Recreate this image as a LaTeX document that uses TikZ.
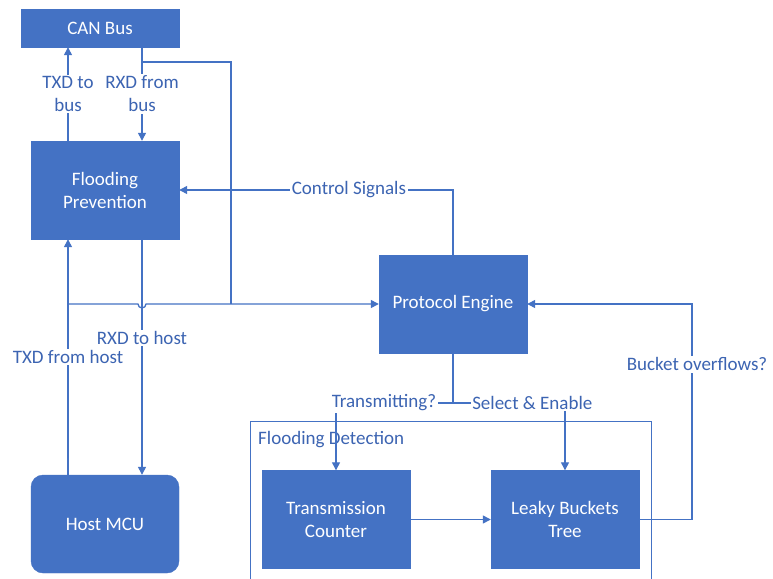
\documentclass[tikz,border=0pt]{standalone}
\usepackage{fontspec}
\setmainfont{Carlito}
\usetikzlibrary{arrows.meta}
\definecolor{boxblue}{RGB}{68,114,196}
\definecolor{txtblue}{RGB}{60,100,178}
\begin{document}
\begin{tikzpicture}[x=1pt,y=-1pt,
  blk/.style={fill=boxblue, draw=boxblue, text=white, inner sep=0pt, align=center,
    font=\fontsize{19}{23}\selectfont},
  lbl/.style={fill=white, text=txtblue, inner sep=1.5pt, align=center,
    font=\fontsize{19}{23}\selectfont},
  wire/.style={draw=boxblue, line width=1.3pt},
  arr/.style={wire, -{Triangle[length=8pt,width=8pt]}},
  grp/.style={draw=boxblue, line width=1.1pt, inner sep=0pt}]
\fill[white] (0,0) rectangle (773,578);
\clip (0,0) rectangle (773,578);

% blocks
\node[blk, minimum width=158, minimum height=38] (can) at (100,28) {CAN Bus};
\node[blk, minimum width=148, minimum height=98] (fp) at (105,190) {Flooding\\Prevention};
\node[blk, minimum width=148, minimum height=98] (pe) at (453,304) {Protocol Engine};
\node[blk, minimum width=148, minimum height=98, rounded corners=12pt] (host) at (105,524) {Host MCU};

% flooding detection group
\node[grp, minimum width=401, minimum height=190, anchor=north west] (fd) at (250,421) {};
\node[anchor=west, text=txtblue, inner sep=0pt, font=\fontsize{19}{23}\selectfont] (fdl) at (258,440) {Flooding Detection};
\node[blk, minimum width=148, minimum height=98] (tc) at (336,519.5) {Transmission\\Counter};
\node[blk, minimum width=148, minimum height=98] (lbt) at (565,519.5) {Leaky Buckets\\Tree};

% wire columns and junctions
\coordinate (xT) at (68,0);
\coordinate (xR) at (142,0);
\coordinate (busTap) at (142,62);
\coordinate (jn) at (231,304);
\coordinate (split) at (68,304);
\coordinate (fork) at (453,403);
\coordinate (xO) at (692,0);

% CAN bus <-> flooding prevention
\draw[arr] (fp.north -| xT) -- node[lbl]{TXD to\\bus} (can.south -| xT);
\draw[arr] (can.south -| xR) -- node[lbl]{RXD from\\bus} (fp.north -| xR);
\draw[wire] (busTap) -| (jn);

% host <-> flooding prevention
\draw[arr] (host.north -| xT) -- node[lbl, pos=0.5]{TXD from host} (fp.south -| xT);
\draw[arr] (fp.south -| xR) -- node[lbl, pos=0.42]{RXD to host} (host.north -| xR);

% tapped lines into the protocol engine, hopping over the RXD line
\draw[arr] (split) -- (138,304) arc[start angle=180, end angle=0, radius=4] -- (pe.west);

% protocol engine control
\draw[arr] (pe.north) |- node[lbl, pos=0.69]{Control Signals} (fp.east);
\draw[wire] (pe.south) -- (fork);
\draw[arr] (fork) -| node[lbl, pos=0.295]{Transmitting?} (tc.north);
\draw[arr] (fork) -| node[lbl, pos=0.354]{Select \& Enable} (lbt.north);

% detection chain
\draw[arr] (tc.east) -- (lbt.west);
\draw[arr] (lbt.east) -| node[lbl, pos=0.86, xshift=5pt]{Bucket overflows?} (xO |- pe.east) -- (pe.east);
\end{tikzpicture}
\end{document}
